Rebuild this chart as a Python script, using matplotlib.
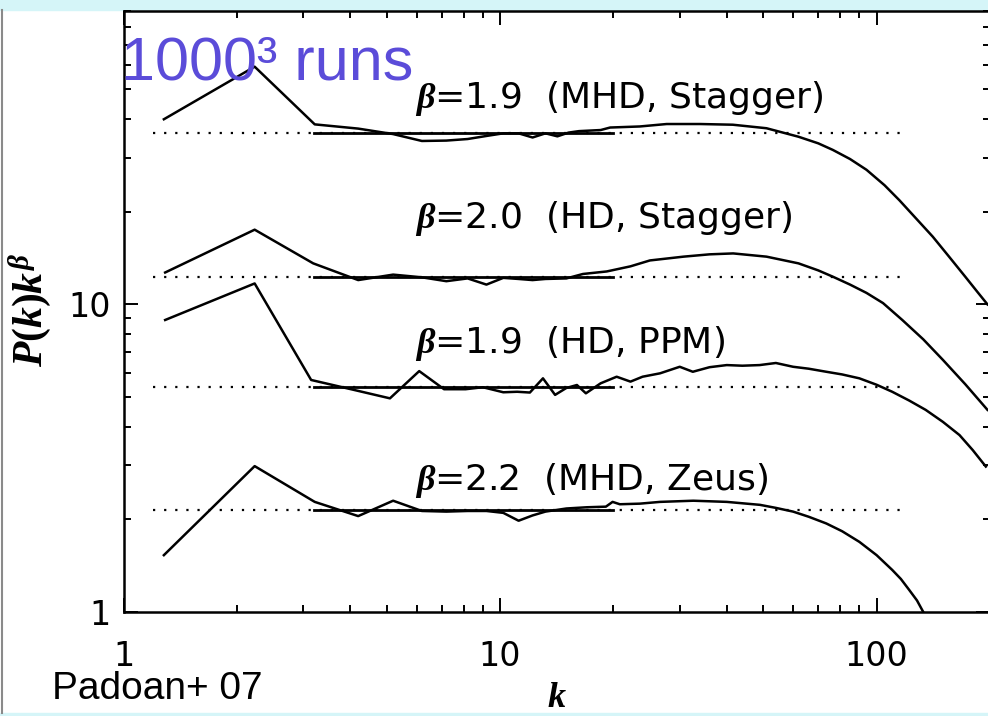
import numpy as np
import matplotlib
matplotlib.use('Agg')
import matplotlib.pyplot as pl
from matplotlib import rcParams
from matplotlib.patches import Rectangle
from matplotlib.lines import Line2D
from matplotlib.ticker import NullFormatter

rcParams['font.family'] = 'DejaVu Sans'
rcParams['mathtext.fontset'] = 'custom'
rcParams['mathtext.it'] = 'Liberation Serif:italic:bold'
rcParams['mathtext.rm'] = 'Liberation Serif:bold'
rcParams['mathtext.bf'] = 'Liberation Serif:bold'

# compensated spectra P(k) k^beta for the four 1000^3 runs
k_mhd_stag = [1.28, 2.23, 3.22, 4.2, 5.2, 6.2, 7.2, 8.2, 9.2, 10.2, 11.2, 12.2, 13.2, 14.2, 15.2,
              16.2, 18.5, 19.6, 23.5, 27.7, 34, 41.5, 51, 62, 70, 76.5, 85, 94, 105, 115, 125,
              141, 155, 172, 185, 197]
p_mhd_stag = [40.0, 59.3, 38.5, 37.3, 35.8, 34.0, 34.1, 34.5, 35.3, 36.0, 36.0, 34.9, 36.0, 35.2, 36.2,
              36.6, 36.9, 37.6, 37.9, 38.6, 38.6, 38.4, 37.4, 35.1, 33.4, 31.8, 29.7, 27.4, 24.4, 21.8, 19.5,
              16.6, 14.4, 12.3, 11.0, 10.0]

k_hd_stag = [1.29, 2.23, 3.19, 4.2, 5.2, 6.2, 7.2, 8.2, 9.2, 10.2, 11.2, 12.2, 13.2, 15, 16.6,
             19.2, 22.2, 25, 30.7, 36, 41.6, 51, 62, 70, 76.6, 85, 94, 104, 117, 133, 150, 172, 197]
p_hd_stag = [12.7, 17.5, 13.6, 12.0, 12.5, 12.25, 11.9, 12.15, 11.6, 12.2, 12.1, 12.0, 12.1, 12.15, 12.56,
             12.8, 13.3, 13.9, 14.3, 14.55, 14.65, 14.3, 13.6, 12.9, 12.3, 11.6, 10.9, 10.1, 8.9, 7.7, 6.6,
             5.5, 4.54]

k_hd_ppm = [1.29, 2.23, 3.15, 4.1, 5.1, 6.1, 7.1, 8.1, 9.0, 10.2, 11.1, 12.0, 13.0, 14.0, 15.0,
            16.0, 16.9, 18.5, 20.4, 22.2, 23.9, 26.6, 30, 32.5, 36, 40, 44, 48.9, 54, 60, 66, 73.5,
            81, 90, 100, 110, 122, 135, 150, 166, 180, 195]
p_hd_ppm = [8.9, 11.7, 5.68, 5.27, 4.95, 6.07, 5.30, 5.30, 5.38, 5.18, 5.20, 5.17, 5.75, 5.08, 5.35,
            5.47, 5.14, 5.54, 5.82, 5.61, 5.82, 5.97, 6.27, 6.04, 6.25, 6.35, 6.32, 6.35, 6.45, 6.27,
            6.18, 6.04, 5.92, 5.75, 5.48, 5.2, 4.87, 4.54, 4.15, 3.76, 3.36, 2.97]

k_mhd_zeus = [1.28, 2.23, 3.22, 4.2, 5.2, 6.2, 7.2, 8.2, 9.2, 10.2, 11.2, 12.2, 13.2, 15, 17,
              19.1, 19.9, 20.8, 23.5, 26.6, 32.6, 40, 49, 54, 60, 66, 73.5, 81, 90, 100, 110, 116,
              122, 128, 133]
p_mhd_zeus = [1.53, 2.98, 2.28, 2.05, 2.30, 2.13, 2.12, 2.13, 2.13, 2.10, 1.98, 2.06, 2.12, 2.17, 2.19,
              2.20, 2.28, 2.24, 2.25, 2.28, 2.30, 2.28, 2.23, 2.18, 2.12, 2.04, 1.94, 1.83, 1.69, 1.53,
              1.37, 1.28, 1.18, 1.09, 1.0]

runs = ['(MHD, Stagger)', '(HD, Stagger)', '(HD, PPM)', '(MHD, Zeus)']
betas = [1.9, 2.0, 1.9, 2.2]
levels = [36.1, 12.3, 5.39, 2.15]      # fitted plateau of each run
fit_range = [3.2, 20]
dot_range = [1.2, 120]

fig = pl.figure(figsize=(9.88, 7.16), dpi=100)
fig.patch.set_facecolor('white')
ax = fig.add_axes([0.125, 0.1453, 0.877, 0.8394])

curves = [(k_mhd_stag, p_mhd_stag), (k_hd_stag, p_hd_stag),
          (k_hd_ppm, p_hd_ppm), (k_mhd_zeus, p_mhd_zeus)]
for (k, p), lev in zip(curves, levels):
	ax.plot(k, p, color='black', lw=1.8, solid_joinstyle='round')
	ax.plot(dot_range, [lev, lev], color='black', lw=1.6, linestyle=(0, (1, 4)))
	ax.plot(fit_range, [lev, lev], color='black', lw=2.0)

# label baselines (data units)
label_y = [43.5, 17.7, 6.95, 2.49]
for yb, beta, run in zip(label_y, betas, runs):
	ax.text(5.94, yb, r'$\beta$=%.1f  %s' % (beta, run), fontsize=26, va='baseline')

ax.set_xscale('log')
ax.set_yscale('log')
ax.set_xlim(1, 200)
ax.set_ylim(1, 90)
ax.set_xticks([1, 10, 100], ['1', '10', '100'])
ax.set_yticks([1, 10], ['1', '10'])
ax.xaxis.set_minor_formatter(NullFormatter())
ax.yaxis.set_minor_formatter(NullFormatter())
ax.tick_params(which='both', direction='in', top=True, right=True, width=1.4, labelsize=24)
ax.tick_params(which='major', length=10)
ax.tick_params(which='minor', length=5)
ax.tick_params(axis='x', pad=20)
ax.tick_params(axis='y', pad=9)
for s in ax.spines.values():
	s.set_linewidth(1.8)

fig.text(557/988, 1-707/716, r'$k$', ha='center', va='baseline', fontsize=26)
fig.text(30/988, 1-310/716, r'$P(k)k^{\beta}$', rotation=90, ha='center', va='center', fontsize=30)

fig.text(121/988, 1-80/716, '1000³ runs', fontsize=44, family='Liberation Sans',
         color='#5B4CD9', va='baseline')
fig.text(52/988, 1-699/716, 'Padoan+ 07', fontsize=28, family='Liberation Sans', va='baseline')

# slide frame
fig.patches.append(Rectangle((0, 1-10/716), 1, 10/716, transform=fig.transFigure,
                             color='#D5F5F8', zorder=-1))
fig.patches.append(Rectangle((0, 0), 1, 3/716, transform=fig.transFigure,
                             color='#D5F5F8', zorder=-1))
fig.lines.append(Line2D([2/988, 2/988], [3/716, 1-10/716], transform=fig.transFigure,
                        color='#8a8a8a', lw=1.5))

fig.savefig('out.png', dpi=100)
